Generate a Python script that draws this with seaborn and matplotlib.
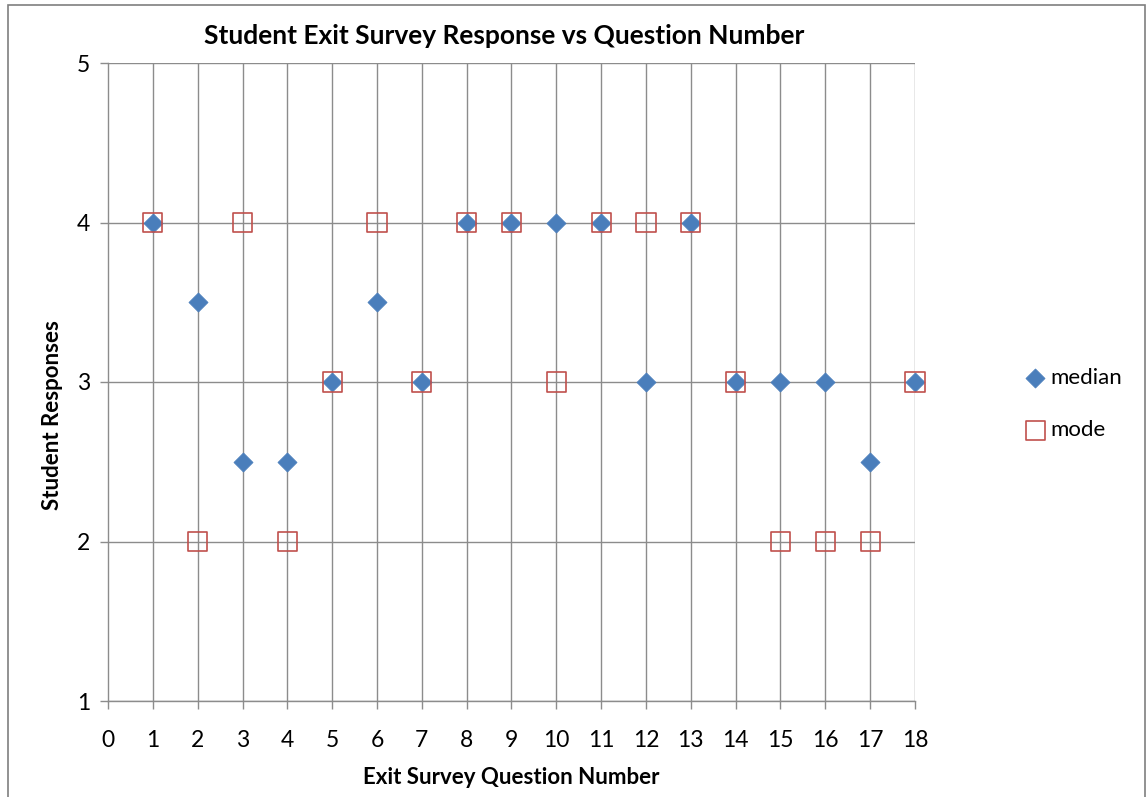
import matplotlib
matplotlib.use("Agg")
import matplotlib.pyplot as plt
import seaborn as sns
import pandas as pd

questions = list(range(1, 19))
median = [4, 3.5, 2.5, 2.5, 3, 3.5, 3, 4, 4, 4, 4, 3, 4, 3, 3, 3, 2.5, 3]
mode = [4, 2, 4, 2, 3, 4, 3, 4, 4, 3, 4, 4, 4, 3, 2, 2, 2, 3]
x_ticks = list(range(0, 19))
y_ticks = [1, 2, 3, 4, 5]

sns.set_theme(style="white")
plt.rcParams["font.family"] = ["Lato", "DejaVu Sans"]
plt.rcParams["text.color"] = "black"
plt.rcParams["axes.labelcolor"] = "black"
plt.rcParams["xtick.color"] = "black"
plt.rcParams["ytick.color"] = "black"

df = pd.DataFrame({"question": questions, "median": median, "mode": mode})

W, H = 1146, 797
fig = plt.figure(figsize=(W / 100, H / 100), dpi=100)
ax = fig.add_axes([108 / W, 1 - 701 / H, (915 - 108) / W, (701 - 63) / H])

grid_c = "#8c8c8c"
for x in x_ticks[1:]:
    ax.axvline(x, color=grid_c, lw=1.0, zorder=0)
for y in y_ticks:
    ax.axhline(y, color=grid_c, lw=1.0, zorder=0)

sns.scatterplot(data=df, x="question", y="median", marker="D", s=95,
                color="#4A7EBB", edgecolor="#4A7EBB", linewidth=0.5,
                label="median", ax=ax, zorder=3, clip_on=False)
sns.scatterplot(data=df, x="question", y="mode", marker="s", s=190,
                facecolor="none", edgecolor="#C0504D", linewidth=1.2,
                label="mode", ax=ax, zorder=4, clip_on=False)

ax.set_xlim(0, 18)
ax.set_ylim(1, 5)
ax.set_xticks(x_ticks)
ax.set_yticks(y_ticks)
ax.tick_params(axis="both", which="both", length=6, width=1.0,
               labelsize=16.5, direction="out", left=True, bottom=True,
               labelcolor="black")
ax.tick_params(axis="x", pad=15)
ax.tick_params(axis="y", pad=7)
for t in ax.get_xticklines() + ax.get_yticklines():
    t.set_markeredgecolor(grid_c)

for side in ["top", "right"]:
    ax.spines[side].set_visible(False)
for side in ["left", "bottom"]:
    ax.spines[side].set_color(grid_c)
    ax.spines[side].set_linewidth(1.0)

ax.set_xlabel("Exit Survey Question Number", fontsize=16, fontweight="bold")
ax.set_ylabel("Student Responses", fontsize=16, fontweight="bold")
ax.xaxis.set_label_coords((511 - 108) / 807, (701 - 767) / 638)
ax.yaxis.set_label_coords((63 - 108) / 807, (701 - 415) / 638)
ax.set_title("Student Exit Survey Response vs Question Number", fontsize=19,
             fontweight="bold", pad=14, x=(504 - 108) / 807)

leg = ax.legend(loc="center left", bbox_to_anchor=(1.138, 0.465), frameon=False,
                fontsize=16, handlelength=0.8, handletextpad=0.3,
                labelspacing=1.45, borderaxespad=0, borderpad=0)

# thin frame around the whole figure
fig.patches.append(plt.Rectangle((8 / W, -0.02), 1 - 9 / W, 1.02 - 5 / H,
                                 transform=fig.transFigure, fill=False,
                                 edgecolor="#7f7f7f", lw=1.2))

fig.savefig("out.png", dpi=100, facecolor="white")
